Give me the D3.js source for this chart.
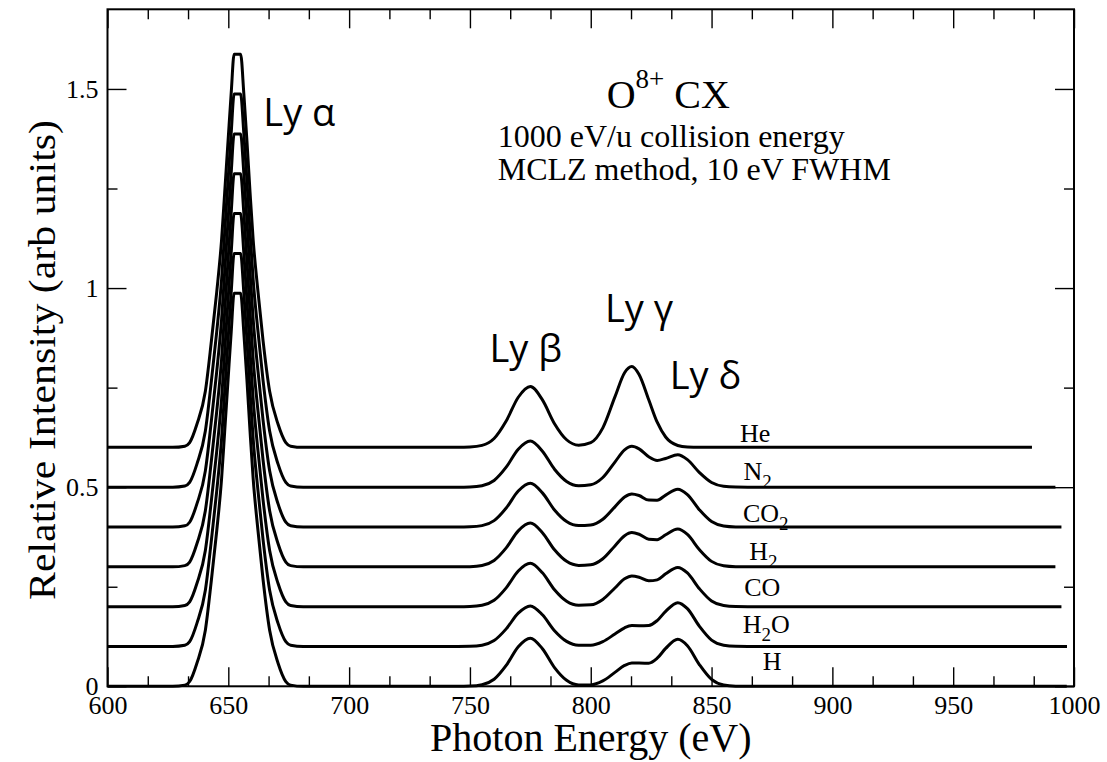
<!DOCTYPE html>
<html>
<head>
<meta charset="utf-8">
<script src="https://cdn.jsdelivr.net/npm/d3@7/dist/d3.min.js"></script>
<style>
  html, body { margin: 0; padding: 0; background: #fff; }
  svg { display: block; }
  .serif { font-family: "Liberation Serif", "Times New Roman", serif; }
  .sans { font-family: "Open Sans", "Noto Sans", sans-serif; }
</style>
</head>
<body>
<svg id="chart" width="1107" height="762"></svg>
<script>
// ---------------- data ----------------
const xDomain = [600, 1000];
const yDomain = [0, 1.7];
const xMajorTicks = [600, 650, 700, 750, 800, 850, 900, 950, 1000];
const yMajorTicks = [0, 0.5, 1, 1.5];
const yTickLabels = ["0", "0.5", "1", "1.5"];

const seriesNames = ["H", "H2O", "CO", "H2", "CO2", "N2", "He"];
const seriesOffsets = [0, 0.1, 0.2, 0.3, 0.4, 0.5, 0.6];
const seriesEnd = [997, 997.1, 994.8, 992.3, 994.8, 992.3, 982.6];

// Ly alpha profile (same normalised shape for every target)
const lyaEnergy = [627, 632, 634, 637, 640.5, 643, 645.2, 647.2, 648.5, 649.9, 651.2, 652.4,
                   655.1, 656.4, 657.7, 659, 660.3, 662.3, 664.4, 667.1, 670.6, 673.8, 675.8, 681];
const lyaValue  = [0, 0.003, 0.012, 0.058, 0.141, 0.267, 0.39, 0.52, 0.64, 0.77, 0.89, 0.987,
                   0.987, 0.89, 0.77, 0.64, 0.52, 0.39, 0.267, 0.141, 0.058, 0.012, 0.003, 0];

// Ly beta / gamma / delta region
const highEnergy = [745, 750, 755, 760, 765, 770, 775, 780, 785, 790, 795, 800, 805, 810, 814, 817,
                    820, 824, 827.5, 831, 836, 840, 845, 850, 855, 860, 865];
const highH   = [0, .0005, .0039, .0177, .0524, .0995, .1209, .0943, .0471, .0151, .0035, .0035, .0135, .0350, .0524, .0586, .0582, .0580, .0705, .0951, .1182, .1020, .0541, .0172, .0033, .0004, 0];
const highH2O = [0, .0004, .0033, .0149, .0442, .0838, .1019, .0795, .0397, .0128, .0031, .0031, .0121, .0313, .0469, .0524, .0523, .0528, .0651, .0883, .1101, .0950, .0504, .0160, .0031, .0003, 0];
const highCO  = [0, .0005, .0035, .0159, .0472, .0896, .1089, .0849, .0424, .0136, .0034, .0046, .0181, .0469, .0698, .0771, .0740, .0650, .0673, .0824, .0986, .0847, .0448, .0143, .0027, .0003, 0];
const highH2  = [0, .0005, .0035, .0161, .0476, .0904, .1099, .0857, .0428, .0138, .0036, .0051, .0202, .0525, .0781, .0860, .0818, .0694, .0683, .0806, .0948, .0812, .0430, .0137, .0026, .0003, 0];
const highCO2 = [0, .0005, .0035, .0161, .0476, .0904, .1099, .0857, .0428, .0138, .0035, .0049, .0195, .0506, .0754, .0830, .0791, .0676, .0674, .0802, .0948, .0812, .0430, .0137, .0026, .0003, 0];
const highN2  = [0, .0005, .0037, .0169, .0502, .0954, .1159, .0904, .0451, .0145, .0038, .0061, .0243, .0631, .0937, .1027, .0962, .0764, .0673, .0722, .0812, .0691, .0365, .0116, .0022, .0003, 0];
const highHe  = [0, .0007, .0049, .0223, .0662, .1258, .1528, .1192, .0595, .0191, .0056, .0119, .0489, .1267, .1874, .2030, .1829, .1196, .0631, .0260, .0047, .0008, 0, 0, 0, 0, 0];
const highValues = [highH, highH2O, highCO, highH2, highCO2, highN2, highHe];

// series labels: [main, subscript, trailing], anchor in data coordinates
const labelParts = [["H", "", ""], ["H", "2", "O"], ["CO", "", ""], ["H", "2", ""], ["CO", "2", ""], ["N", "2", ""], ["He", "", ""]];
const labelE = [871.2, 862.9, 863.5, 865.6, 863.0, 863.2, 861.8];
const labelV = [0.041, 0.133, 0.227, 0.317, 0.413, 0.518, 0.614];

const lineLabels = ["Ly \u03b1", "Ly \u03b2", "Ly \u03b3", "Ly \u03b4"];
const lineLabelE = [664.5, 758.1, 805.9, 832.7];
const lineLabelV = [1.407, 0.815, 0.915, 0.746];

// ---------------- drawing ----------------
const svg = d3.select("#chart");
const L = 107.5, R = 1074, T = 9.3, B = 686.3;
const x = d3.scaleLinear().domain(xDomain).range([L, R]);
const y = d3.scaleLinear().domain(yDomain).range([B, T]);

const xMinor = d3.range(0, 25).map(i => 600 + i * 50 / 3).filter((v, i) => i % 3 !== 0);
const yMinor = [0.25, 0.75, 1.25];

function styleAxis(g) {
  g.select(".domain").remove();
  g.selectAll(".tick line").attr("stroke", "#000").attr("stroke-width", 1.4);
}
// bottom
svg.append("g").attr("transform", `translate(0,${B})`)
  .call(d3.axisBottom(x).tickValues(xMajorTicks).tickFormat(d3.format("d")).tickSize(-19).tickPadding(9))
  .call(styleAxis)
  .call(g => g.selectAll("text").attr("class", "serif").attr("font-size", 26).attr("fill", "#000").attr("font-family", null));
svg.append("g").attr("transform", `translate(0,${B})`)
  .call(d3.axisBottom(x).tickValues(xMinor).tickFormat("").tickSize(-10)).call(styleAxis);
// top
svg.append("g").attr("transform", `translate(0,${T})`)
  .call(d3.axisTop(x).tickValues(xMajorTicks).tickFormat("").tickSize(-19)).call(styleAxis);
svg.append("g").attr("transform", `translate(0,${T})`)
  .call(d3.axisTop(x).tickValues(xMinor).tickFormat("").tickSize(-10)).call(styleAxis);
// left
svg.append("g").attr("transform", `translate(${L},0)`)
  .call(d3.axisLeft(y).tickValues(yMajorTicks).tickFormat((d, i) => yTickLabels[i]).tickSize(-19).tickPadding(9))
  .call(styleAxis)
  .call(g => g.selectAll("text").attr("class", "serif").attr("font-size", 26).attr("fill", "#000").attr("font-family", null));
svg.append("g").attr("transform", `translate(${L},0)`)
  .call(d3.axisLeft(y).tickValues(yMinor).tickFormat("").tickSize(-10)).call(styleAxis);
// right
svg.append("g").attr("transform", `translate(${R},0)`)
  .call(d3.axisRight(y).tickValues(yMajorTicks).tickFormat("").tickSize(-19)).call(styleAxis);
svg.append("g").attr("transform", `translate(${R},0)`)
  .call(d3.axisRight(y).tickValues(yMinor).tickFormat("").tickSize(-10)).call(styleAxis);

// curves
const line = d3.line().x(d => x(d[0])).y(d => y(d[1])).curve(d3.curveMonotoneX);
seriesNames.forEach((name, i) => {
  const off = seriesOffsets[i];
  const pts = [[600, off]];
  lyaEnergy.forEach((e, k) => pts.push([e, off + lyaValue[k]]));
  highEnergy.forEach((e, k) => pts.push([e, off + highValues[i][k]]));
  pts.push([seriesEnd[i], off]);
  svg.append("path").datum(pts).attr("d", line)
    .attr("fill", "none").attr("stroke", "#000").attr("stroke-width", 3)
    .attr("stroke-linejoin", "round");
});

// frame
svg.append("rect").attr("x", L).attr("y", T).attr("width", R - L).attr("height", B - T)
  .attr("fill", "none").attr("stroke", "#000").attr("stroke-width", 2);

// series labels
labelParts.forEach((p, i) => {
  const t = svg.append("text").attr("class", "serif").attr("font-size", 26)
    .attr("x", x(labelE[i])).attr("y", y(labelV[i]));
  t.append("tspan").text(p[0]);
  if (p[1]) t.append("tspan").attr("font-size", 19).attr("dy", 8).text(p[1]);
  if (p[2]) t.append("tspan").attr("dy", -8).text(p[2]);
});

// line labels
lineLabels.forEach((s, i) => {
  svg.append("text").attr("class", "sans").attr("font-size", 38)
    .attr("x", x(lineLabelE[i])).attr("y", y(lineLabelV[i])).text(s);
});

// title block
const tt = svg.append("text").attr("class", "serif").attr("font-size", 40)
  .attr("x", x(806.6)).attr("y", y(1.4515));
tt.append("tspan").text("O");
tt.append("tspan").attr("font-size", 27).attr("dy", -20).text("8+");
tt.append("tspan").attr("dy", 20).text(" CX");
svg.append("text").attr("class", "serif").attr("font-size", 32)
  .attr("x", x(761.5)).attr("y", y(1.355)).text("1000 eV/u collision energy");
svg.append("text").attr("class", "serif").attr("font-size", 32)
  .attr("x", x(761.5)).attr("y", y(1.2715)).text("MCLZ method, 10 eV FWHM");

// axis titles
svg.append("text").attr("class", "serif").attr("font-size", 40).attr("text-anchor", "middle")
  .attr("x", (L + R) / 2).attr("y", 751).text("Photon Energy (eV)");
svg.append("text").attr("class", "serif").attr("font-size", 37).attr("text-anchor", "middle")
  .attr("textLength", 480).attr("lengthAdjust", "spacingAndGlyphs")
  .attr("transform", `translate(55,360) rotate(-90)`).text("Relative Intensity (arb units)");
</script>
</body>
</html>
